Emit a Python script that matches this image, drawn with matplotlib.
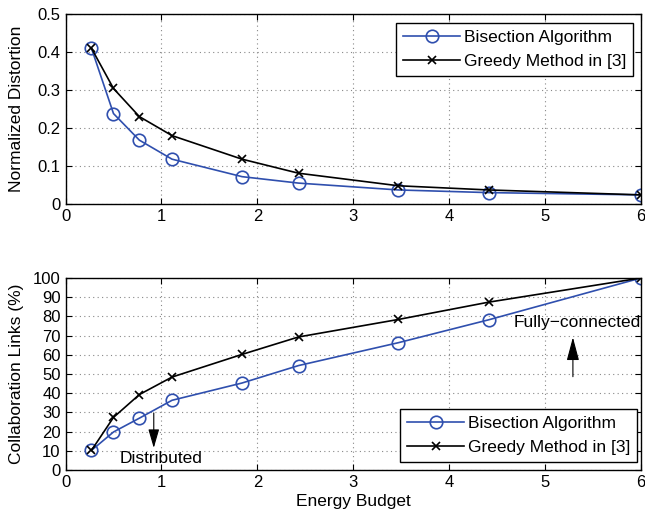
import numpy as np
import matplotlib.pyplot as plt

plt.rcParams['font.family'] = ['Liberation Sans', 'DejaVu Sans']

energy = [0.27, 0.5, 0.77, 1.11, 1.84, 2.43, 3.47, 4.41, 6.0]
dist_bisect = [0.41, 0.238, 0.168, 0.118, 0.072, 0.055, 0.037, 0.030, 0.024]
dist_greedy = [0.41, 0.304, 0.230, 0.180, 0.118, 0.081, 0.048, 0.037, 0.024]
links_bisect = [10.2, 19.8, 27.0, 36.3, 45.3, 54.4, 66.3, 78.2, 100]
links_greedy = [10.2, 27.4, 39.3, 48.4, 60.2, 69.3, 78.4, 87.4, 100]

blue = '#2f4fae'
fs = 12.5
tfs = 12

fig = plt.figure(figsize=(6.45, 5.17), dpi=100)
ax1 = fig.add_axes([0.1016, 0.6054, 0.8922, 0.3675])
ax2 = fig.add_axes([0.1016, 0.0909, 0.8922, 0.3714])

def style(ax):
    ax.grid(True, linestyle=(0, (1, 3)), color='#888888', linewidth=0.8)
    ax.tick_params(direction='in', labelsize=tfs, length=4, top=True, right=True,
                   labeltop=False, labelright=False)
    for s in ax.spines.values():
        s.set_linewidth(1.0)
    ax.set_xlim(0, 6)
    ax.set_xticks(range(7))

def legend(ax, anchor, loc):
    leg = ax.legend(loc=loc, fontsize=fs, fancybox=False, edgecolor='black',
                    bbox_to_anchor=anchor, borderaxespad=0, handlelength=3.3,
                    handletextpad=0.2, borderpad=0.4, labelspacing=0.5)
    leg.get_frame().set_linewidth(1.0)
    leg.get_frame().set_alpha(1)

ax1.plot(energy, dist_bisect, '-o', color=blue, mfc='none', mec=blue, ms=9, mew=1.2,
         lw=1.2, label='Bisection Algorithm')
ax1.plot(energy, dist_greedy, '-x', color='black', ms=6, mew=1.2, lw=1.2,
         label='Greedy Method in [3]')
style(ax1)
ax1.set_ylim(0, 0.5)
ax1.set_yticks([0, 0.1, 0.2, 0.3, 0.4, 0.5])
ax1.set_yticklabels(['0', '0.1', '0.2', '0.3', '0.4', '0.5'])
ax1.set_ylabel('Normalized Distortion', fontsize=fs)
ax1.yaxis.set_label_coords(-0.072, 0.5)
legend(ax1, (0.986, 0.951), 'upper right')

ax2.plot(energy, links_bisect, '-o', color=blue, mfc='none', mec=blue, ms=9, mew=1.2,
         lw=1.2, label='Bisection Algorithm')
ax2.plot(energy, links_greedy, '-x', color='black', ms=6, mew=1.2, lw=1.2,
         label='Greedy Method in [3]')
style(ax2)
ax2.set_ylim(0, 100)
ax2.set_yticks(range(0, 101, 10))
ax2.set_ylabel('Collaboration Links (%)', fontsize=fs)
ax2.yaxis.set_label_coords(-0.072, 0.5)
ax2.set_xlabel('Energy Budget', fontsize=fs, labelpad=3)
legend(ax2, (0.993, 0.043), 'lower right')

ax2.annotate('', xy=(0.92, 11.5), xytext=(0.92, 29.7),
             arrowprops=dict(arrowstyle='-|>,head_length=0.96,head_width=0.28',
                             color='black', lw=0.8, mutation_scale=12,
                             shrinkA=0, shrinkB=0))
ax2.text(0.56, 6.0, 'Distributed', fontsize=fs, va='center', ha='left')
ax2.annotate('', xy=(5.29, 69.1), xytext=(5.29, 48.6),
             arrowprops=dict(arrowstyle='-|>,head_length=1.2,head_width=0.32',
                             color='black', lw=0.8, mutation_scale=12,
                             shrinkA=0, shrinkB=0))
ax2.text(6.0, 76.6, 'Fully\u2212connected', fontsize=fs, va='center', ha='right')

fig.savefig('out.png', dpi=100)
